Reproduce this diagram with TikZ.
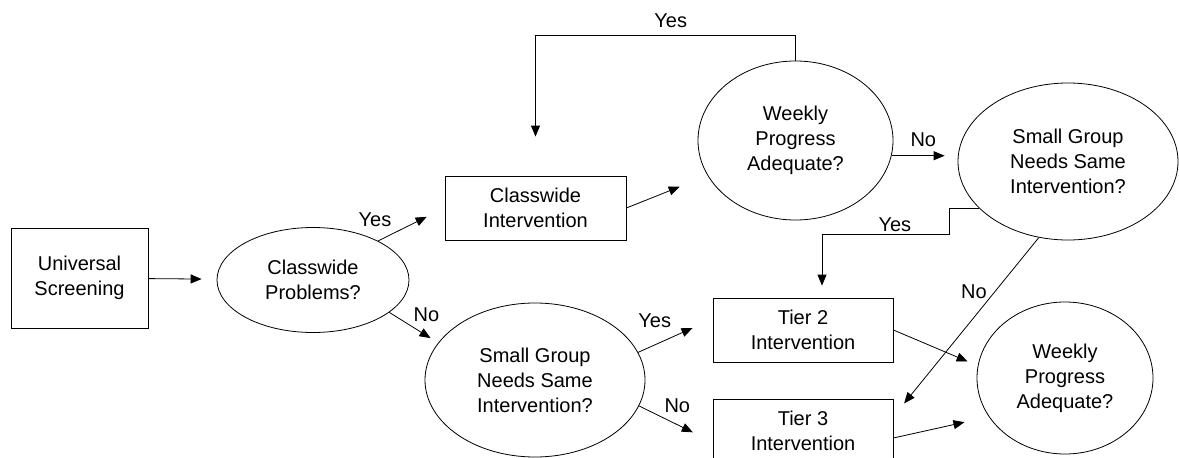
\documentclass[tikz,border=0pt]{standalone}
\usepackage{fontspec}
\setmainfont{Liberation Sans}
\usetikzlibrary{arrows.meta,positioning,shapes.geometric}
\tikzset{procbox/.style={draw,rectangle,inner sep=0pt,align=center,font=\fontsize{20}{25}\selectfont},
  decision/.style={draw,ellipse,inner sep=0pt,align=center,font=\fontsize{20}{25}\selectfont},
  lbl/.style={inner sep=1pt,font=\fontsize{20}{25}\selectfont}}

\begin{document}
\begin{tikzpicture}[>={Triangle[length=11pt,width=9pt]},x=1pt,y=-1pt,line width=0.8pt]
    \useasboundingbox (0,0) rectangle (1179,458);

    \node[procbox,minimum width=137pt,minimum height=100pt] (us) at (79.5,278) {Universal\\Screening};
    \node[decision,minimum width=192pt,minimum height=105pt] (cp) at (313,280) {Classwide\\Problems?};
    \node[procbox,minimum width=181pt,minimum height=64pt] (ci) at (535.5,208) {Classwide\\Intervention};
    \node[decision,minimum width=195pt,minimum height=159pt] (wp1) at (795.5,140.5) {Weekly\\Progress\\Adequate?};
    \node[decision,minimum width=220pt,minimum height=157pt] (sg1) at (1068,161.5) {Small Group\\Needs Same\\Intervention?};
    \node[decision,minimum width=220pt,minimum height=154pt] (sg2) at (535,380) {Small Group\\Needs Same\\Intervention?};
    \node[procbox,minimum width=180pt,minimum height=64pt] (t2) at (803,330) {Tier 2\\Intervention};
    \node[procbox,minimum width=180pt,minimum height=64pt] (t3) at (803,431) {Tier 3\\Intervention};
    \node[decision,minimum width=176pt,minimum height=152pt] (wp2) at (1065,378) {Weekly\\Progress\\Adequate?};

    % classwide branch
    \draw[->,shorten >=15pt] (us) -- (cp);
    \draw[->,shorten >=20pt] (cp.31) -- node[lbl,pos=0.22,anchor=south east,yshift=6pt] {Yes} (ci.west);
    \draw[->,shorten >=30pt] (ci.east) -- (wp1);
    \draw[->,shorten >=39pt] (wp1.north) -- ++(0,-25) -| node[lbl,pos=0.24,anchor=south,yshift=7pt] {Yes} (ci.north);
    \draw[->,shorten >=13pt] (wp1.351) -- node[lbl,pos=0.48,anchor=south,yshift=7.5pt] {No} (wp1.351 -| sg1.west);
    \draw[->,shorten >=12pt] (sg1.208) -- ++(-30,0) -- ++(0,26) -| node[lbl,pos=0.214,anchor=south,yshift=2pt] {Yes} ([xshift=19pt]t2.north);
    \draw[->,shorten >=17pt] (sg1.249) -- node[lbl,pos=0.3,anchor=east,xshift=-7pt] {No} ([yshift=-18pt]t3.north east);

    % small group branch
    \draw[->,shorten >=9pt] (cp.337) -- node[lbl,pos=0.47,anchor=south west,yshift=4pt] {No} (sg2.159);
    \draw[->,shorten >=22pt] (sg2.15) -- node[lbl,pos=0.46,anchor=south east,yshift=8pt] {Yes} ([yshift=11pt]t2.west);
    \draw[->,shorten >=22pt] (sg2.346) -- node[lbl,pos=0.52,anchor=south,yshift=11pt] {No} ([yshift=-11pt]t3.west);
    \draw[->,shorten >=11pt] (t2.east) -- (wp2.172);
    \draw[->,shorten >=25pt] ([yshift=-7pt]t3.east) -- (wp2.207);
\end{tikzpicture}
\end{document}
